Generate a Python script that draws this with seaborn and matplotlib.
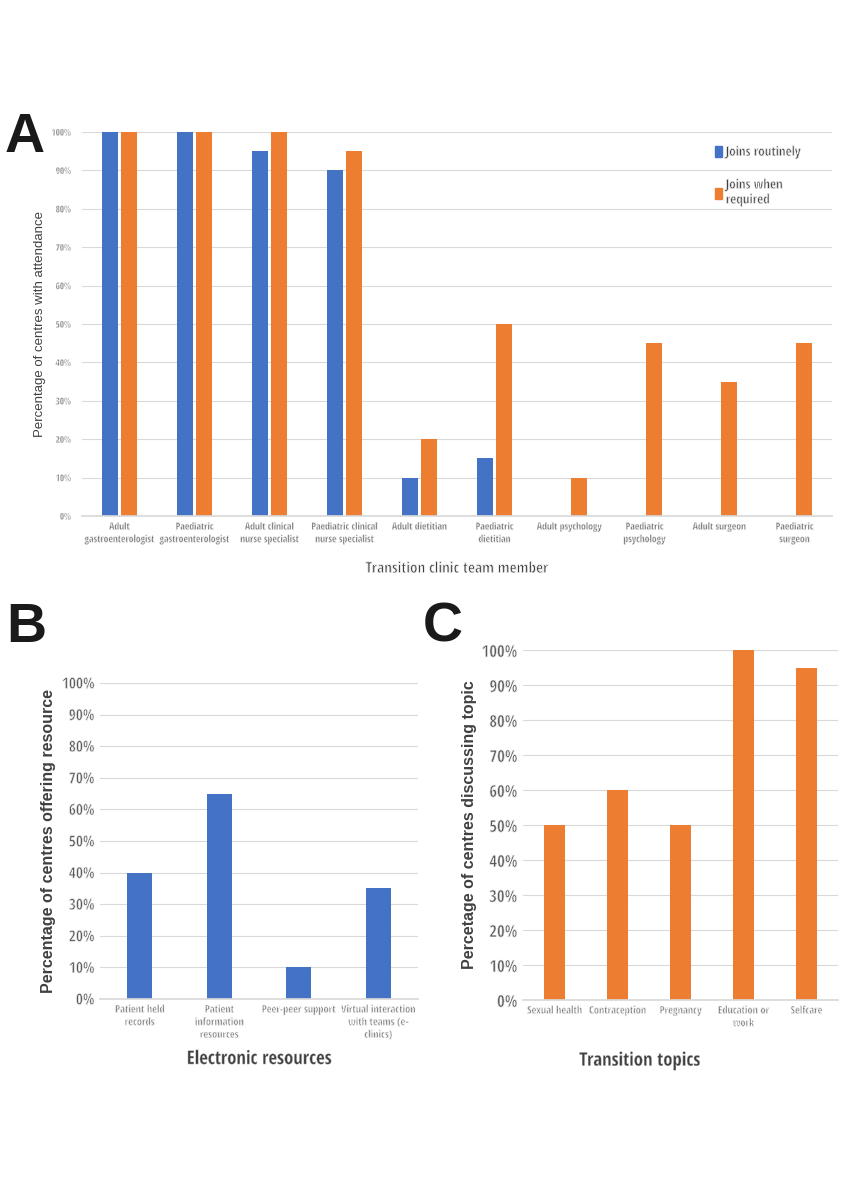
import pandas as pd
import matplotlib.pyplot as plt
import seaborn as sns
from matplotlib.patches import Patch
from matplotlib import font_manager
import matplotlib.patheffects as pe

team_members = ["Adult\ngastroenterologist", "Paediatric\ngastroenterologist", "Adult clinical\nnurse specialist",
                "Paediatric clinical\nnurse specialist", "Adult dietitian", "Paediatric\ndietitian",
                "Adult psychology", "Paediatric\npsychology", "Adult surgeon", "Paediatric\nsurgeon"]
joins_routinely = [100, 100, 95, 90, 10, 15, 0, 0, 0, 0]
joins_when_required = [100, 100, 100, 95, 20, 50, 10, 45, 35, 45]

resources = ["Patient held\nrecords", "Patient\ninformation\nresources", "Peer-peer support",
             "Virtual interaction\nwith teams (e-\nclinics)"]
resource_pct = [40, 65, 10, 35]

topics = ["Sexual health", "Contraception", "Pregnancy", "Education or\nwork", "Selfcare"]
topic_pct = [50, 60, 50, 100, 95]

BLUE = "#4472C4"
ORANGE = "#ED7D31"

sns.set_theme(style="white")
plt.rcParams['font.family'] = ["Liberation Sans", "DejaVu Sans"]

# condensed face for the small labels, if one is installed
names = {f.name for f in font_manager.fontManager.ttflist}
narrow = [n for n in ["Liberation Sans Narrow", "DejaVu Sans Condensed", "Open Sans Condensed"] if n in names]
narrow = narrow + ["DejaVu Sans"]

# the only condensed face is bold: eat into the glyph edges with a white stroke
def thin_fx(w):
    return [pe.Normal(), pe.Stroke(linewidth=w, foreground="white")]

fig = plt.figure(figsize=(8.48, 12), dpi=100)

def style_axis(ax, tick_size, xtick_size, w):
    ax.set_ylim(0, 100)
    ax.set_yticks(range(0, 101, 10))
    ax.set_yticklabels([f"{v}%" for v in range(0, 101, 10)], fontsize=tick_size, color="#595959",
                       family=narrow, stretch="condensed", path_effects=thin_fx(w))
    ax.yaxis.grid(True, color="#d9d9d9", linewidth=0.8)
    ax.set_axisbelow(True)
    for s in ["top", "right", "left"]:
        ax.spines[s].set_visible(False)
    ax.spines["bottom"].set_color("#d9d9d9")
    ax.tick_params(axis="both", length=0, pad=4)
    for lab in ax.get_xticklabels():
        lab.set_fontsize(xtick_size)
        lab.set_color("#595959")
        lab.set_family(narrow)
        lab.set_stretch("condensed")
        lab.set_path_effects(thin_fx(w))

# Panel A
axA = fig.add_axes([82 / 848, 1 - 516 / 1200, 750 / 848, 384 / 1200])
dfA = pd.DataFrame({
    "member": team_members * 2,
    "pct": joins_routinely + joins_when_required,
    "type": ["Joins routinely"] * 10 + ["Joins when\nrequired"] * 10,
})
sns.barplot(data=dfA, x="member", y="pct", hue="type", palette=[BLUE, ORANGE],
            width=0.51, gap=0.14, saturation=1, linewidth=0, ax=axA, legend=False)
style_axis(axA, 6.5, 7, 0.4)
axA.tick_params(axis="y", pad=8)
axA.set_xlabel("Transition clinic team member", fontsize=11, color="#404040", labelpad=12,
               family=narrow, stretch="condensed", path_effects=thin_fx(0.6))
axA.set_ylabel("Percentage of centres with attendance", fontsize=9.5, color="#404040", labelpad=4)
leg = axA.legend(handles=[Patch(color=BLUE, label="Joins routinely"), Patch(color=ORANGE, label="Joins when\nrequired")],
                 loc="upper right", bbox_to_anchor=(0.975, 0.995), frameon=False, handlelength=0.5, handleheight=0.9,
                 handletextpad=0.3, labelspacing=1.5, prop={"family": narrow, "size": 9.5, "stretch": "condensed"},
                 labelcolor="#404040")
for t in leg.get_texts():
    t.set_path_effects(thin_fx(0.5))
fig.text(5 / 848, 1 - 152 / 1200, "A", fontsize=40, fontweight="bold", color="#1a1a1a")

# Panel B
axB = fig.add_axes([100 / 848, 1 - 999 / 1200, 318 / 848, 316 / 1200])
dfB = pd.DataFrame({"resource": resources, "pct": resource_pct})
sns.barplot(data=dfB, x="resource", y="pct", color=BLUE, saturation=1, width=0.32, linewidth=0, ax=axB)
style_axis(axB, 11, 7.5, 0.5)
axB.set_xlabel("Electronic resources", fontsize=13.5, color="#404040", labelpad=6,
               family=narrow, stretch="condensed", path_effects=thin_fx(0.3))
axB.set_ylabel("Percentage of centres offering resource", fontsize=11.5, color="#404040", fontweight="bold")
fig.text(6 / 848, 1 - 642 / 1200, "B", fontsize=40, fontweight="bold", color="#1a1a1a")

# Panel C
axC = fig.add_axes([523 / 848, 1 - 1000 / 1200, 315 / 848, 350 / 1200])
dfC = pd.DataFrame({"topic": topics, "pct": topic_pct})
sns.barplot(data=dfC, x="topic", y="pct", color=ORANGE, saturation=1, width=0.32, linewidth=0, ax=axC)
style_axis(axC, 12, 7.5, 0.5)
axC.set_xlabel("Transition topics", fontsize=13.5, color="#404040",
               family=narrow, stretch="condensed", path_effects=thin_fx(0.3))
axC.xaxis.set_label_coords(0.37, -0.145)
axC.set_ylabel("Percetage of centres discussing topic", fontsize=11.5, color="#404040", fontweight="bold",
               labelpad=3)
fig.text(423 / 848, 1 - 642 / 1200, "C", fontsize=40, fontweight="bold", color="#1a1a1a")

fig.savefig("out.png", dpi=100)
